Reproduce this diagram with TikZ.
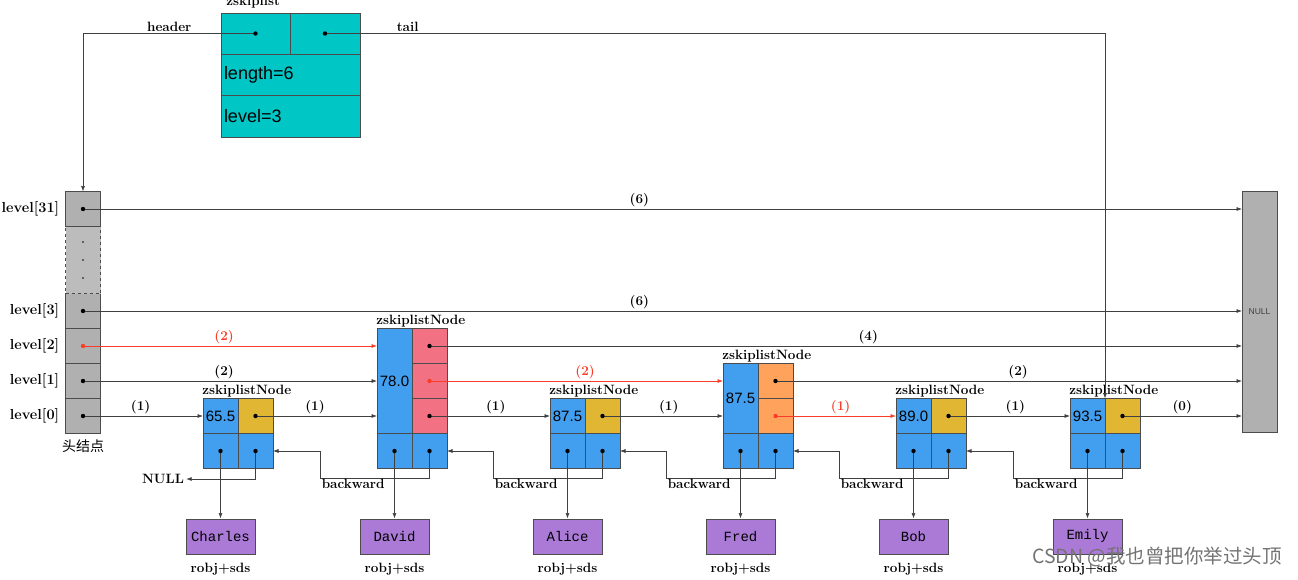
\documentclass[tikz,border=0pt]{standalone}
\usepackage{fontspec}
\setsansfont{Liberation Sans}
\setmonofont{Liberation Mono}
\newfontfamily\cjk{Noto Sans CJK SC}
\usepackage{tikz}
\usetikzlibrary{arrows.meta, positioning}
\definecolor{zcyan}{RGB}{0,198,198}
\definecolor{nblue}{RGB}{66,158,238}
\definecolor{ngold}{RGB}{224,182,50}
\definecolor{npink}{RGB}{242,114,132}
\definecolor{norange}{RGB}{255,163,92}
\definecolor{npurple}{RGB}{170,122,214}
\definecolor{hgray}{RGB}{176,176,176}
\definecolor{lred}{RGB}{250,60,40}

\begin{document}
\begin{tikzpicture}[x=1pt, y=-1pt, line width=0.6pt,
		>={Latex[length=5.5pt,width=4pt]},   %Pfeilspitzen
		cell/.style={draw=black!70, fill=nblue, minimum width=35pt, minimum height=35pt, inner sep=0pt, outer sep=0pt, font=\sffamily\fontsize{15}{15}\selectfont},
		hcell/.style={cell, fill=hgray},
		ztop/.style={cell, fill=zcyan, minimum height=41pt},
		zrow/.style={cell, fill=zcyan, minimum width=139pt, minimum height=41.5pt, text width=133pt, align=left, font=\sffamily\fontsize{18}{18}\selectfont},
		objbox/.style={draw=black!70, fill=npurple, minimum width=69pt, minimum height=35pt, inner sep=0pt, font=\ttfamily\fontsize{14}{14}\selectfont},
		lbl/.style={font=\bfseries\fontsize{13.5}{14}\selectfont, inner sep=2pt},
		lvl/.style={lbl, font=\bfseries\fontsize{14.5}{15}\selectfont},
		redlbl/.style={lbl, text=lred},
		ptr/.style={->, draw=black!75},
		redptr/.style={->, draw=lred}]
	\useasboundingbox (0,0) rectangle (1298,579);
	\clip (0,0) rectangle (1298,579);
	%zskiplist
	\node[ztop, minimum width=69pt] (zh) at (255.5,33.5) {};
	\node[ztop, minimum width=70pt, right=0pt of zh] (zt) {};
	\node[zrow] (zlen) at (290.5,75) {length=6};
	\node[zrow, below=0pt of zlen] (zlvl) {level=3};
	\node[lbl, anchor=base west] (ztitle) at ([xshift=3pt, yshift=8pt]zh.north west) {zskiplist};
	%Kopfknoten
	\foreach \n/\y in {31/209, 3/311, 2/346, 1/381, 0/416} {
		\node[hcell] (h\n) at (83,\y) {};
		\node[lvl, left=4pt of h\n] (hl\n) {level[\n]};
	}
	\node[hcell, dashed, fill=hgray!85, minimum height=67pt] (hdots) at (83,260) {};
	\foreach \d in {-18,0,18} \fill ([yshift=\d pt]hdots.center) circle (0.9pt);
	\node[font=\cjk\fontsize{14}{14}\selectfont, below=3pt of h0] (hname) {头结点};
	%NULL am Ende
	\node[hcell, minimum height=241pt, font=\sffamily\fontsize{8.5}{9}\selectfont, text=black!75] (null) at (1259.5,311.5) {NULL};
	%Knoten mit einer Ebene
	\foreach \n/\x/\v in {1/220.5/65.5, 3/567.5/87.5, 5/913.5/89.0, 6/1087.5/93.5} {
		\node[cell] (n\n-s) at (\x,416) {\v};
		\node[cell, fill=ngold, right=0pt of n\n-s] (n\n-l0) {};
	}
	%Knoten mit drei Ebenen
	\node[cell, minimum height=105pt] (n2-s) at (394.5,381) {78.0};
	\node[cell, fill=npink] (n2-l2) at (429.5,346) {};
	\node[cell, fill=npink] (n2-l1) at (429.5,381) {};
	\node[cell, fill=npink] (n2-l0) at (429.5,416) {};
	%Knoten mit zwei Ebenen
	\node[cell, minimum height=70pt] (n4-s) at (740.5,398.5) {87.5};
	\node[cell, fill=norange] (n4-l1) at (775.5,381) {};
	\node[cell, fill=norange] (n4-l0) at (775.5,416) {};
	%untere Zeile, Titel, Objekte
	\foreach \n/\x/\name in {1/220.5/Charles, 2/394.5/David, 3/567.5/Alice, 4/740.5/Fred, 5/913.5/Bob, 6/1087.5/Emily} {
		\node[cell] (n\n-o) at (\x,451) {};
		\node[cell, right=0pt of n\n-o] (n\n-b) {};
		\node[lbl, anchor=south west, inner sep=1pt] (n\n-t) at ([xshift=-2pt]n\n-s.north west) {zskiplistNode};
		\node[objbox, below=50pt of n\n-o] (obj\n) {\name};
		\node[lbl, below=7pt of obj\n] (robj\n) {robj+sds};
		\draw[ptr] (n\n-o.center) -- (obj\n.north);
	}
	%Zeiger der Ebenen
	\draw[ptr] (h31.center) -- node[lbl, above, pos=.48] {(6)} (h31 -| null.west);
	\draw[ptr] (h3.center) -- node[lbl, above, pos=.48] {(6)} (h3 -| null.west);
	\draw[redptr] (h2.center) -- node[redlbl, above, pos=.48] {(2)} (h2 -| n2-s.west);
	\draw[ptr] (h1.center) -- node[lbl, above, pos=.48] {(2)} (h1 -| n2-s.west);
	\draw[ptr] (h0.center) -- node[lbl, above, pos=.48] {(1)} (n1-s.west);
	\draw[ptr] (n1-l0.center) -- node[lbl, above, pos=.49] {(1)} (n2-l0 -| n2-s.west);
	\draw[ptr] (n2-l2.center) -- node[lbl, above, pos=.54] {(4)} (n2-l2 -| null.west);
	\draw[redptr] (n2-l1.center) -- node[redlbl, above, pos=.53] {(2)} (n2-l1 -| n4-s.west);
	\draw[ptr] (n2-l0.center) -- node[lbl, above, pos=.55] {(1)} (n3-s.west);
	\draw[ptr] (n3-l0.center) -- node[lbl, above, pos=.55] {(1)} (n3-l0 -| n4-s.west);
	\draw[ptr] (n4-l1.center) -- node[lbl, above, pos=.52] {(2)} (n4-l1 -| null.west);
	\draw[redptr] (n4-l0.center) -- node[redlbl, above, pos=.54] {(1)} (n5-s.west);
	\draw[ptr] (n5-l0.center) -- node[lbl, above, pos=.55] {(1)} (n6-s.west);
	\draw[ptr] (n6-l0.center) -- node[lbl, above, pos=.5] {(0)} (n6-l0 -| null.west);
	%header und tail
	\draw[ptr] (zh.center) -| node[lbl, above, pos=.25] {header} (h31.north);
	\draw[ptr] (zt.center) -| node[lbl, above, pos=.053] {tail} (n6-s.north east);
	%backward Zeiger
	\node[lbl] (nullb) at (163,479) {NULL};
	\draw[ptr] (n1-b.center) |- (nullb.east);
	\foreach \a/\b in {2/1, 3/2, 4/3, 5/4, 6/5}
		\draw[ptr] (n\a-b.center) -- ++(0,27) -- ++(-109,0) node[lbl, anchor=north west, inner sep=1pt] {backward} -- ++(0,-27) -- (n\b-b.east);
	%Punkte
	\foreach \c in {zh, zt, h31, h3, h1, h0, n1-l0, n2-l2, n2-l0, n3-l0, n4-l1, n5-l0, n6-l0}
		\fill (\c.center) circle (2.2pt);
	\foreach \c in {h2, n2-l1, n4-l0}
		\fill[lred] (\c.center) circle (2.2pt);
	\foreach \n in {1,...,6} {
		\fill (n\n-o.center) circle (2.2pt);
		\fill (n\n-b.center) circle (2.2pt);
	}
	%Wasserzeichen
	\node[font=\cjk\fontsize{19.5}{20}\selectfont, text=black!55] (mark) at (1157,557) {CSDN @我也曾把你举过头顶};
\end{tikzpicture}
\end{document}
